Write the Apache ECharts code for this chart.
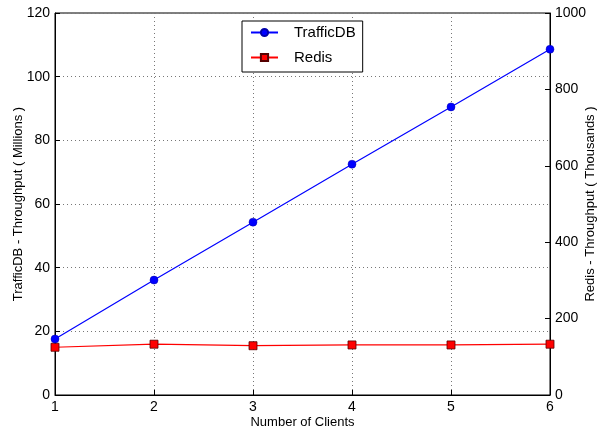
<!DOCTYPE html>
<html>
<head>
<meta charset="utf-8">
<script src="https://cdn.jsdelivr.net/npm/echarts@6/dist/echarts.min.js"></script>
<style>
  html, body { margin: 0; padding: 0; background: #fff; }
  #main { width: 597px; height: 434px; }
</style>
</head>
<body>
<div id="main"></div>
<script>
const clients = [1, 2, 3, 4, 5, 6]
const trafficDB = [17.6, 36.1, 54.3, 72.5, 90.5, 108.6] // millions
const redis = [125, 133, 129, 131, 131, 133] // thousands

const font = 'Liberation Sans, Arial, sans-serif'

const option = {
  backgroundColor: '#fff',
  textStyle: { fontFamily: font },
  animation: false,
  grid: {
    left: 55, right: 47, top: 13, bottom: 39,
    outerBoundsMode: 'none',
    containLabel: false,
    show: true, borderColor: '#000', borderWidth: 1, backgroundColor: 'transparent'
  },
  legend: {
    left: 242, top: 21,
    orient: 'vertical',
    itemWidth: 27, itemHeight: 9, itemGap: 10,
    padding: [4, 7, 7, 8],
    borderColor: '#000', borderWidth: 1, borderRadius: 0,
    backgroundColor: '#fff',
    textStyle: { fontSize: 15, color: '#000', fontFamily: font, padding: [0, 0, 0, 11] },
    data: ['TrafficDB', 'Redis']
  },
  xAxis: {
    type: 'value',
    min: 1, max: 6, interval: 1,
    name: 'Number of Clients',
    nameLocation: 'middle', nameGap: 21, nameMoveOverlap: false,
    nameTextStyle: { fontSize: 13, color: '#000' },
    axisLine: { lineStyle: { color: '#000' } },
    axisTick: { inside: true, length: 5, lineStyle: { color: '#000' } },
    axisLabel: { fontSize: 14, color: '#000', margin: 5 },
    splitLine: { show: true, lineStyle: { color: '#777', type: [1, 3] } }
  },
  yAxis: [
    {
      type: 'value',
      min: 0, max: 120, interval: 20,
      name: 'TrafficDB - Throughput ( Millions )',
      nameLocation: 'middle', nameGap: 30, nameRotate: 90, nameMoveOverlap: false,
      nameTextStyle: { fontSize: 13, color: '#000' },
      axisLine: { show: true, lineStyle: { color: '#000' } },
      axisTick: { show: true, inside: true, length: 5, lineStyle: { color: '#000' } },
      axisLabel: { fontSize: 14, color: '#000', margin: 5 },
      splitLine: { show: true, lineStyle: { color: '#777', type: [1, 3] } }
    },
    {
      type: 'value',
      min: 0, max: 1000, interval: 200,
      position: 'right',
      name: 'Redis - Throughput ( Thousands )',
      nameLocation: 'middle', nameGap: 34, nameRotate: 90, nameMoveOverlap: false,
      nameTextStyle: { fontSize: 13, color: '#000' },
      axisLine: { show: true, lineStyle: { color: '#000' } },
      axisTick: { show: true, inside: true, length: 5, lineStyle: { color: '#000' } },
      axisLabel: { fontSize: 14, color: '#000', margin: 5, formatter: v => String(v) },
      splitLine: { show: false }
    }
  ],
  series: [
    {
      name: 'TrafficDB',
      type: 'line',
      yAxisIndex: 0,
      data: clients.map((c, i) => [c, trafficDB[i]]),
      symbol: 'circle', symbolSize: 8,
      lineStyle: { color: '#0000ff', width: 1.2 },
      itemStyle: { color: '#0000ff', borderColor: '#0000aa', borderWidth: 0.5 },
      clip: false, z: 3
    },
    {
      name: 'Redis',
      type: 'line',
      yAxisIndex: 1,
      data: clients.map((c, i) => [c, redis[i]]),
      symbol: 'rect', symbolSize: 8,
      lineStyle: { color: '#ff0000', width: 1.2 },
      itemStyle: { color: '#ff0000', borderColor: '#550000', borderWidth: 0.8 },
      clip: false, z: 2
    }
  ]
}

const chart = echarts.init(document.getElementById('main'))
chart.setOption(option)
</script>
</body>
</html>
